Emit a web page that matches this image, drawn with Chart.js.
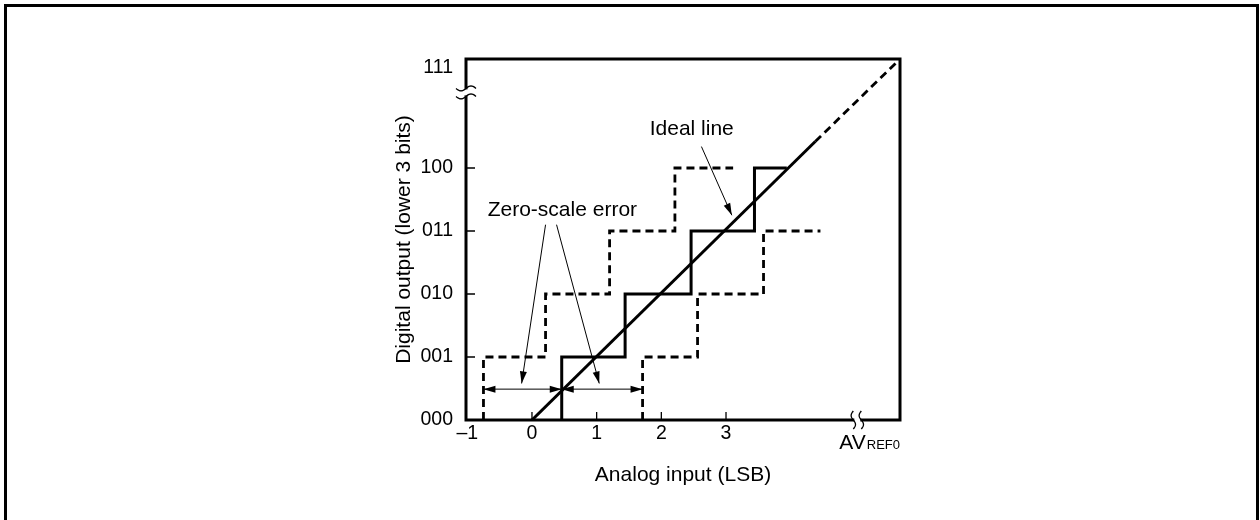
<!DOCTYPE html>
<html>
<head>
<meta charset="utf-8">
<script src="https://cdn.jsdelivr.net/npm/chart.js@4"></script>
<style>
html, body { margin: 0; padding: 0; background: #fff; }
#wrap { width: 1260px; height: 520px; }
</style>
</head>
<body>
<div id="wrap"><canvas id="chart" width="1260" height="520"></canvas></div>
<script>
// axis ticks
const xTicks = [-1, 0, 1, 2, 3, 5.03];
const xLabels = ['\u20131', '0', '1', '2', '3', ''];
const yTicks = [0, 1, 2, 3, 4, 5.59];
const yLabels = ['000', '001', '010', '011', '100', '111'];

// ideal line (solid part, then dashed)
const idealX = [0, 4.38];
const idealY = [0, 4.42];
const idealDashX = [4.38, 5.69];
const idealDashY = [4.42, 5.73];

// actual conversion staircase
const stepX = [0.46, 0.46, 1.44, 1.44, 2.46, 2.46, 3.44, 3.44, 3.94];
const stepY = [0, 1, 1, 2, 2, 3, 3, 4, 4];
// shifted staircases (zero-scale error)
const leftX = [-0.75, -0.75, 0.21, 0.21, 1.20, 1.20, 2.21, 2.21, 3.11];
const leftY = [0, 1, 1, 2, 2, 3, 3, 4, 4];
const rightX = [1.71, 1.71, 2.56, 2.56, 3.58, 3.58, 4.46];
const rightY = [0, 1, 1, 2, 2, 3, 3];

// annotations
const errY = 0.49;
const errX = [-0.75, 0.46, 1.71];
const callouts = [[0.21, 3.10, -0.16, 0.58], [0.38, 3.10, 1.04, 0.58], [2.62, 4.34, 3.09, 3.25]];
const notes = [['Zero-scale error', 0.47, 3.33], ['Ideal line', 2.47, 4.62]];
const xBreak = 5.03, yBreak = 5.2;

const FONT = '"Liberation Sans", Arial, Helvetica, sans-serif';

function pts(xs, ys) { return xs.map((x, i) => ({x: x, y: ys[i]})); }

function arrowHead(c, x0, y0, x1, y1) {
  const a = Math.atan2(y1 - y0, x1 - x0), L = 12, W = 3.5;
  c.beginPath();
  c.moveTo(x1, y1);
  c.lineTo(x1 - L * Math.cos(a) + W * Math.sin(a), y1 - L * Math.sin(a) - W * Math.cos(a));
  c.lineTo(x1 - L * Math.cos(a) - W * Math.sin(a), y1 - L * Math.sin(a) + W * Math.cos(a));
  c.closePath();
  c.fill();
}

const extras = {
  id: 'extras',
  afterDraw(chart) {
    const c = chart.ctx, a = chart.chartArea;
    const sx = chart.scales.x, sy = chart.scales.y;
    c.save();
    c.strokeStyle = '#000'; c.fillStyle = '#000';

    // plot frame
    c.lineWidth = 3;
    c.strokeRect(a.left, a.top, a.right - a.left, a.bottom - a.top);

    // inside tick marks
    c.lineWidth = 1.3;
    c.beginPath();
    [0, 1, 2, 3].forEach(v => { const px = sx.getPixelForValue(v); c.moveTo(px, a.bottom); c.lineTo(px, a.bottom - 8); });
    [1, 2, 3, 4].forEach(v => { const py = sy.getPixelForValue(v); c.moveTo(a.left, py); c.lineTo(a.left + 9, py); });
    c.stroke();

    // axis breaks
    const yb = sy.getPixelForValue(yBreak);
    c.fillStyle = '#fff';
    c.fillRect(a.left - 4, yb - 3, 8, 6);
    c.fillStyle = '#000';
    c.lineWidth = 1.3;
    [-4, 4].forEach(d => {
      c.beginPath();
      for (let t = -10; t <= 10; t++) {
        const yy = yb + d - 2.5 * Math.sin(t / 10 * Math.PI);
        t === -10 ? c.moveTo(a.left + t, yy) : c.lineTo(a.left + t, yy);
      }
      c.stroke();
    });
    const xb = sx.getPixelForValue(xBreak);
    c.fillStyle = '#fff';
    c.fillRect(xb - 3, a.bottom - 4, 6, 8);
    c.fillStyle = '#000';
    [-4, 4].forEach(d => {
      c.beginPath();
      for (let t = -9; t <= 9; t++) {
        const xx = xb + d + 2.2 * Math.sin(t / 9 * Math.PI);
        t === -9 ? c.moveTo(xx, a.bottom + t) : c.lineTo(xx, a.bottom + t);
      }
      c.stroke();
    });

    // zero-scale error double arrows
    c.lineWidth = 1;
    const ey = sy.getPixelForValue(errY);
    for (let i = 0; i < errX.length - 1; i++) {
      const x0 = sx.getPixelForValue(errX[i]), x1 = sx.getPixelForValue(errX[i + 1]);
      c.beginPath(); c.moveTo(x0, ey); c.lineTo(x1, ey); c.stroke();
      arrowHead(c, x1, ey, x0, ey);
      arrowHead(c, x0, ey, x1, ey);
    }

    // callout arrows
    callouts.forEach(p => {
      const x0 = sx.getPixelForValue(p[0]), y0 = sy.getPixelForValue(p[1]);
      const x1 = sx.getPixelForValue(p[2]), y1 = sy.getPixelForValue(p[3]);
      c.beginPath(); c.moveTo(x0, y0); c.lineTo(x1, y1); c.stroke();
      arrowHead(c, x0, y0, x1, y1);
    });

    // notes
    c.font = '21px ' + FONT;
    c.textAlign = 'center'; c.textBaseline = 'middle';
    notes.forEach(n => c.fillText(n[0], sx.getPixelForValue(n[1]), sy.getPixelForValue(n[2])));

    // AVREF0 label
    c.textAlign = 'left'; c.textBaseline = 'alphabetic';
    c.font = '21px ' + FONT;
    const ax = xb - 18, ay = a.bottom + 29;
    c.fillText('AV', ax, ay);
    const w = c.measureText('AV').width;
    c.font = '13px ' + FONT;
    c.fillText('REF0', ax + w + 1, ay);

    // outer frame
    c.lineWidth = 3;
    c.beginPath();
    c.moveTo(5.5, 520); c.lineTo(5.5, 5.5); c.lineTo(1257.5, 5.5); c.lineTo(1257.5, 520);
    c.stroke();
    c.restore();
  }
};

const solid = {borderColor: '#000', borderWidth: 3, pointRadius: 0, showLine: true, fill: false, tension: 0};
const dashed = Object.assign({}, solid, {borderWidth: 2.8, borderDash: [8, 5]});

new Chart(document.getElementById('chart'), {
  type: 'scatter',
  data: {
    datasets: [
      Object.assign({label: 'Ideal line', data: pts(idealX, idealY)}, solid),
      Object.assign({label: 'Ideal line (ext)', data: pts(idealDashX, idealDashY)}, dashed),
      Object.assign({label: 'Actual', data: pts(stepX, stepY)}, solid),
      Object.assign({label: 'Offset left', data: pts(leftX, leftY)}, dashed),
      Object.assign({label: 'Offset right', data: pts(rightX, rightY)}, dashed)
    ]
  },
  options: {
    responsive: false,
    animation: false,
    layout: {padding: {left: 388, right: 360, top: 59, bottom: 28}},
    plugins: {legend: {display: false}, tooltip: {enabled: false}},
    scales: {
      x: {
        type: 'linear', min: -1.02, max: 5.69,
        afterBuildTicks: s => { s.ticks = xTicks.map(v => ({value: v})); },
        afterFit: s => { s.height = 72; },
        grid: {display: false, drawTicks: false},
        border: {display: false},
        ticks: {autoSkip: false, maxRotation: 0, padding: 2, color: '#000',
          font: {family: FONT, size: 19.5}, callback: (v, i) => xLabels[i]},
        title: {display: true, text: 'Analog input (LSB)', color: '#000',
          font: {family: FONT, size: 21}, padding: {top: 4, bottom: 4}}
      },
      y: {
        type: 'linear', min: 0, max: 5.73,
        afterBuildTicks: s => { s.ticks = yTicks.map(v => ({value: v})); },
        afterFit: s => { s.width = 78; },
        grid: {display: false, drawTicks: false},
        border: {display: false},
        ticks: {autoSkip: false, padding: 13, color: '#000',
          font: {family: FONT, size: 19.5}, callback: (v, i) => yLabels[i]},
        title: {display: true, text: 'Digital output (lower 3 bits)', color: '#000',
          font: {family: FONT, size: 21}, padding: {top: 4, bottom: 4}}
      }
    }
  },
  plugins: [extras]
});
</script>
</body>
</html>
